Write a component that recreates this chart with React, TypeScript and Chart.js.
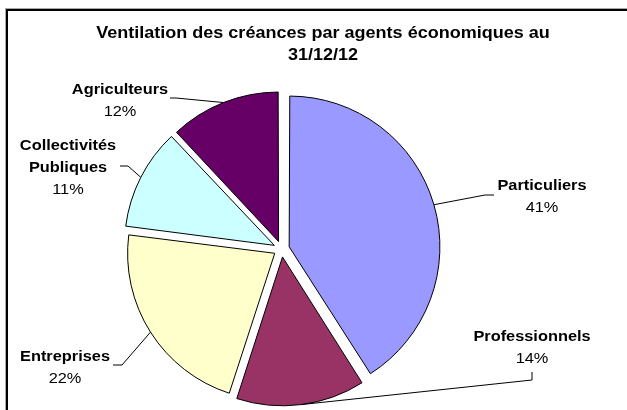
import React, { useEffect, useRef } from "react";
import { Chart, registerables } from "chart.js";

Chart.register(...registerables);

const categories = ["Particuliers", "Professionnels", "Entreprises", "Collectivités Publiques", "Agriculteurs"];
const labelLines = [["Particuliers"], ["Professionnels"], ["Entreprises"], ["Collectivités", "Publiques"], ["Agriculteurs"]];
const values = [41, 14, 22, 11, 12];
const colors = ["#9999FF", "#993366", "#FFFFCC", "#CCFFFF", "#660066"];
const titleLines = ["Ventilation des créances par agents économiques au", "31/12/12"];

// label placement (layout only): text center x, first line y, and leader elbow points
const LABEL_LAYOUT = [
  { x: 542, y: 186, path: [[494, 195], [485, 195]] },
  { x: 532, y: 337, path: [[532, 372], [532, 380]] },
  { x: 65, y: 357, path: [[113, 365], [122, 365]] },
  { x: 68, y: 146, path: [[120, 166], [128, 166]] },
  { x: 120, y: 90, path: [[170, 98], [176, 98]] },
];

const FONT = '"Liberation Sans", Arial, sans-serif';
const LINE_H = 22;
const TEXT_STRETCH = 1.09;
const TITLE_STRETCH = 1.06;

function stretchedText(ctx: CanvasRenderingContext2D, text: string, x: number, y: number, sx: number) {
  ctx.save();
  ctx.translate(x, y);
  ctx.scale(sx, 1);
  ctx.fillText(text, 0, 0);
  ctx.restore();
}

const labelPlugin = {
  id: "excelLabels",
  afterDraw(chart: any) {
    const ctx = chart.ctx;
    ctx.save();
    // title
    ctx.fillStyle = "#000";
    ctx.textAlign = "center";
    ctx.textBaseline = "middle";
    ctx.font = `bold 17px ${FONT}`;
    titleLines.forEach((t, i) => stretchedText(ctx, t, 323, 33 + i * 22, TITLE_STRETCH));

    const meta = chart.getDatasetMeta(0);
    const total = values.reduce((a, b) => a + b, 0);
    meta.data.forEach((el: any, i: number) => {
      const { x, y, startAngle, endAngle, outerRadius } = el.getProps(["x", "y", "startAngle", "endAngle", "outerRadius"], true);
      const mid = (startAngle + endAngle) / 2;
      const off = (el.options.offset || 0) / 4;
      const circ = endAngle - startAngle;
      const fix = 1 - Math.sin(Math.min(Math.PI, circ));
      const r = outerRadius + off * fix;
      const px = x + Math.cos(mid) * (off + r);
      const py = y + Math.sin(mid) * (off + r);
      const lay = LABEL_LAYOUT[i];
      // leader line
      ctx.strokeStyle = "#000";
      ctx.lineWidth = 1;
      ctx.beginPath();
      ctx.moveTo(lay.path[0][0], lay.path[0][1]);
      for (let k = 1; k < lay.path.length; k++) ctx.lineTo(lay.path[k][0], lay.path[k][1]);
      ctx.lineTo(px, py);
      ctx.stroke();
      // texts
      ctx.fillStyle = "#000";
      ctx.font = `bold 15px ${FONT}`;
      const lines = labelLines[i];
      lines.forEach((t, k) => stretchedText(ctx, t, lay.x, lay.y + k * LINE_H, TEXT_STRETCH));
      ctx.font = `15px ${FONT}`;
      const pct = Math.round((values[i] / total) * 100) + "%";
      stretchedText(ctx, pct, lay.x, lay.y + lines.length * LINE_H, TEXT_STRETCH);
    });
    ctx.restore();
  },
};

export default function App() {
  const ref = useRef<HTMLCanvasElement | null>(null);
  useEffect(() => {
    if (!ref.current) return;
    const chart = new Chart(ref.current, {
      type: "pie",
      data: {
        labels: categories,
        datasets: [
          {
            data: values,
            backgroundColor: colors,
            borderColor: "#000000",
            borderWidth: 1,
            offset: 32,
            radius: 147,
          } as any,
        ],
      },
      options: {
        responsive: false,
        animation: false,
        devicePixelRatio: 1,
        layout: { padding: { left: 0, right: 64, top: 88, bottom: 0 } },
        plugins: {
          legend: { display: false },
          title: { display: false },
          tooltip: { enabled: false },
        },
        events: [],
      } as any,
      plugins: [labelPlugin],
    });
    return () => chart.destroy();
  }, []);
  return (
    <div style={{ position: "fixed", left: 0, top: 0, width: 627, height: 410, overflow: "hidden", background: "#fff" }}>
      <div
        style={{
          position: "absolute",
          left: 6,
          top: 9,
          width: 700,
          height: 500,
          borderLeft: "2px solid #000",
          borderTop: "2px solid #000",
          boxShadow: "-1px -1px 0 #aaa",
        }}
      />
      <canvas ref={ref} width={627} height={410} style={{ position: "absolute", left: 0, top: 0, width: 627, height: 410 }} />
    </div>
  );
}
